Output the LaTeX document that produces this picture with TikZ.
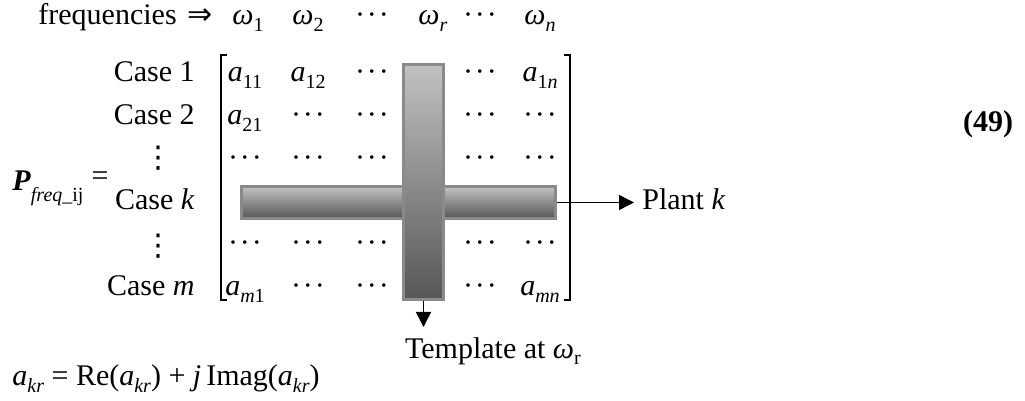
\documentclass[tikz,border=0pt]{standalone}
\usepackage{fontspec}
\setmainfont{Liberation Serif}
\newfontfamily\symfont{DejaVu Sans}
\usetikzlibrary{arrows.meta, positioning}

\definecolor{barlight}{HTML}{C2C2C2}
\definecolor{bardark}{HTML}{565656}
\definecolor{barline}{HTML}{8A8A8A}

% subscripts written by hand (text font, not math)
\newcommand{\lo}[1]{\raisebox{-0.22em}{\fontsize{10}{10}\selectfont #1}}
\newcommand{\ent}[2]{\textit{#1}\lo{#2}}
\newcommand{\cd}{\textperiodcentered\kern0.06em\textperiodcentered\kern0.06em\textperiodcentered}

\begin{document}
\begin{tikzpicture}[x=0.5pt, y=-0.5pt,
  txt/.style={inner sep=0pt, font=\fontsize{15}{17}\selectfont},
  elem/.style={txt, anchor=base},
  casel/.style={txt, anchor=base east},
  brk/.style={line width=0.75pt},
  barst/.style={draw=barline, line width=1.5pt, inner sep=0pt, top color=barlight, bottom color=bardark},
  arr/.style={-{Triangle[length=7.5pt, width=7.5pt]}, line width=0.75pt}
]
\useasboundingbox (0,0) rectangle (1025,401);

% header row
\node[txt, anchor=base west] (freq) at (38,25) {frequencies};
\node[elem] (impl) at (200,25) {\symfont ⇒};
\node[elem] (w1) at (248,25) {\ent{ω}{1}};
\node[elem] (w2) at (308,25) {\ent{ω}{2}};
\node[elem] (wd1) at (372,25) {\cd};
\node[elem] (wr) at (433,25) {\ent{ω}{\textit{r}}};
\node[elem] (wd2) at (480,25) {\cd};
\node[elem] (wn) at (540,25) {\ent{ω}{\textit{n}}};

% left side
\node[txt, anchor=base west] (P) at (12,191) {\textbf{\textit{P}}\raisebox{-0.35em}{\fontsize{10}{10}\selectfont\textit{freq}\_ij}};
\node[elem] (eq) at (100,186) {=};
\node[casel] (c1) at (195,81.5) {Case 1};
\node[casel] (c2) at (195,124.5) {Case 2};
\node[elem] (vd1) at (158,168) {\symfont ⋮};
\node[casel] (ck) at (195,209.5) {Case \textit{k}};
\node[elem] (vd2) at (158,256) {\symfont ⋮};
\node[casel] (cm) at (195,295.5) {Case \textit{m}};

% brackets
\coordinate (lbt) at (221,55);
\coordinate (lbb) at (221,300);
\coordinate (rbt) at (570,55);
\coordinate (rbb) at (570,300);
\draw[brk] ([xshift=3pt]lbt) -- (lbt) -- (lbb) -- ([xshift=3pt]lbb);
\draw[brk] ([xshift=-3pt]rbt) -- (rbt) -- (rbb) -- ([xshift=-3pt]rbb);

% entries
\node[elem] (a11) at (245,81.5) {\ent{a}{11}};
\node[elem] (a12) at (308,81.5) {\ent{a}{12}};
\node[elem] (r1d1) at (372,81.5) {\cd};
\node[elem] (r1d2) at (480,81.5) {\cd};
\node[elem] (a1n) at (540,81.5) {\ent{a}{1\textit{n}}};

\node[elem] (a21) at (245,124.5) {\ent{a}{21}};
\node[elem] (r2d1) at (308,124.5) {\cd};
\node[elem] (r2d2) at (372,124.5) {\cd};
\node[elem] (r2d3) at (480,124.5) {\cd};
\node[elem] (r2d4) at (540,124.5) {\cd};

\node[elem] (r3d1) at (245,167.5) {\cd};
\node[elem] (r3d2) at (308,167.5) {\cd};
\node[elem] (r3d3) at (372,167.5) {\cd};
\node[elem] (r3d4) at (480,167.5) {\cd};
\node[elem] (r3d5) at (540,167.5) {\cd};

\node[elem] (r5d1) at (245,252.5) {\cd};
\node[elem] (r5d2) at (308,252.5) {\cd};
\node[elem] (r5d3) at (372,252.5) {\cd};
\node[elem] (r5d4) at (480,252.5) {\cd};
\node[elem] (r5d5) at (540,252.5) {\cd};

\node[elem] (am1) at (245,295.5) {\ent{a}{\textit{m}1}};
\node[elem] (r6d1) at (308,295.5) {\cd};
\node[elem] (r6d2) at (372,295.5) {\cd};
\node[elem] (r6d3) at (480,295.5) {\cd};
\node[elem] (amn) at (540,295.5) {\ent{a}{\textit{mn}}};

% plant row and template column
\node[barst, minimum width=157pt, minimum height=16pt] (hbar) at (398.5,202.5) {};
\node[barst, minimum width=20pt, minimum height=117.5pt] (vbar) at (423.5,182) {};

\node[txt, anchor=base west] (plant) at (642,210) {Plant \textit{k}};
\draw[arr] (hbar.east) -- (hbar.east -| plant.west) [shorten >=4pt];

\coordinate (tmpltip) at (423.5,327);
\node[elem] (tmpl) at (493,358) {Template at \ent{ω}{r}};
\draw[arr] (vbar.south) -- (tmpltip);

% formula and equation number
\node[txt, anchor=base west] (akr) at (12,386) {\ent{a}{\textit{kr}} = Re(\ent{a}{\textit{kr}}) + \textit{j}\,Imag(\ent{a}{\textit{kr}})};
\node[elem] (eqno) at (988,132) {\textbf{(49)}};
\end{tikzpicture}
\end{document}
